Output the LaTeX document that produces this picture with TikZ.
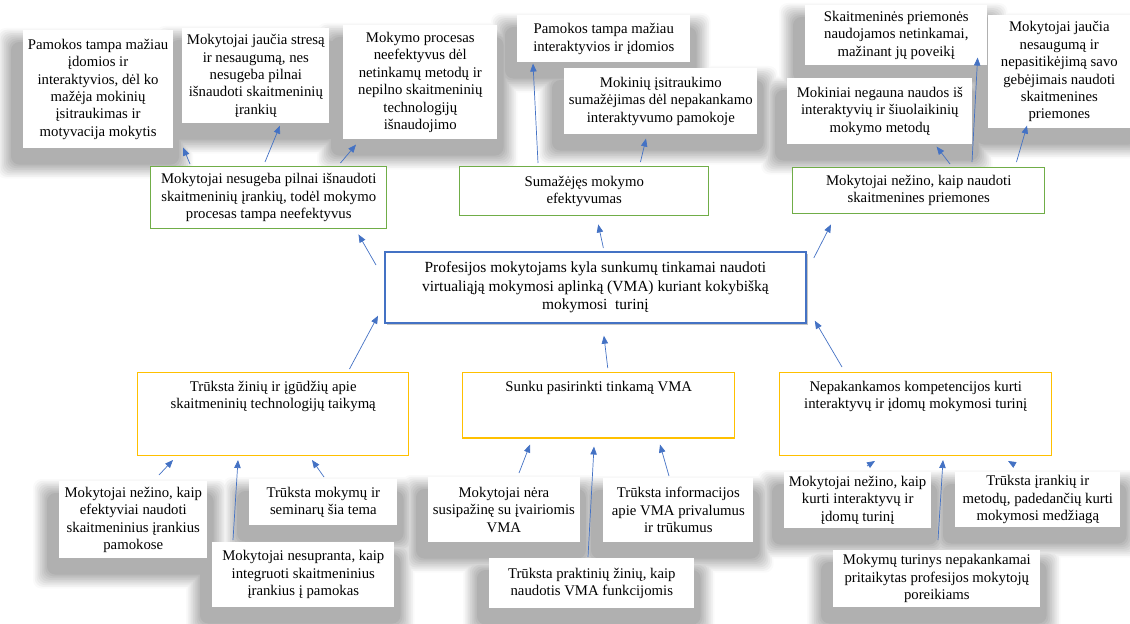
\documentclass[tikz,border=0pt]{standalone}
\usepackage{fontspec}
\setmainfont{Liberation Serif}
\usetikzlibrary{positioning,arrows.meta,calc,shadows,backgrounds}

\definecolor{zalia}{HTML}{70AD47}
\definecolor{geltona}{HTML}{FFC000}
\definecolor{melyna}{HTML}{4472C4}

\begin{document}
\begin{tikzpicture}[x=0.025cm, y=-0.025cm, font=\fontsize{10.5}{12.4}\selectfont,
    lapas/.style={fill=white, align=center, anchor=north west, inner ysep=2pt},
    pasekme/.style={draw=zalia, line width=1pt, fill=white, align=center, anchor=north west},
    priezastis/.style={draw=geltona, line width=1pt, fill=white, align=center, anchor=north west, inner ysep=6pt, text depth=0.95cm},
    problema/.style={draw=melyna, line width=1.2pt, fill=white, align=center, anchor=north west,
      drop shadow={shadow xshift=1.5pt, shadow yshift=-1.5pt, fill=black!45}},
    seselis/.style={rounded corners=6pt},
    rod/.style={draw=melyna, line width=0.5pt, -{Triangle[length=2mm,width=1.6mm]}}]
\useasboundingbox (0,0) rectangle (1130,624);
            % Pasekmių pasekmės
            \node[lapas, minimum width=3.6cm, minimum height=2.95cm] (PS1a) at (23,30) {Pamokos tampa mažiau\\ įdomios ir\\ interaktyvios, dėl ko\\ mažėja mokinių\\ įsitraukimas ir\\ motyvacija mokytis};
            \node[lapas, minimum width=3.575cm, minimum height=2.375cm] (PS1b) at (182,28) {Mokytojai jaučia stresą\\ ir nesaugumą, nes\\ nesugeba pilnai\\ išnaudoti skaitmeninių\\ įrankių};
            \node[lapas, minimum width=3.85cm, minimum height=2.85cm] (PS1c) at (343,25) {Mokymo procesas\\ neefektyvus dėl\\ netinkamų metodų ir\\ nepilno skaitmeninių\\ technologijų\\ išnaudojimo};
            \node[lapas, minimum width=4.325cm, minimum height=1.175cm] (PS2a) at (517,15) {Pamokos tampa mažiau\\ interaktyvios ir įdomios};
            \node[lapas, minimum width=4.825cm, minimum height=1.65cm] (PS2b) at (564,68) {Mokinių įsitraukimo\\ sumažėjimas dėl nepakankamo\\ interaktyvumo pamokoje};
            \node[lapas, minimum width=4.55cm, minimum height=1.5cm] (PS3a) at (805,5) {Skaitmeninės priemonės\\ naudojamos netinkamai,\\ mažinant jų poveikį};
            \node[lapas, minimum width=4.625cm, minimum height=1.65cm] (PS3b) at (787,78) {Mokiniai negauna naudos iš\\ interaktyvių ir šiuolaikinių\\ mokymo metodų};
            \node[lapas, minimum width=3.55cm, minimum height=2.825cm] (PS3c) at (988,15) {Mokytojai jaučia\\ nesaugumą ir\\ nepasitikėjimą savo\\ gebėjimais naudoti\\ skaitmenines\\ priemones};
            % Pasekmės
            \node[pasekme, minimum width=5.9cm, minimum height=1.55cm] (PS1) at (150,166) {Mokytojai nesugeba pilnai išnaudoti\\ skaitmeninių įrankių, todėl mokymo\\ procesas tampa neefektyvus};
            \node[pasekme, minimum width=6.225cm, minimum height=1.225cm] (PS2) at (459,166) {Sumažėjęs mokymo\\ efektyvumas};
            \node[pasekme, minimum width=6.3cm, minimum height=1.15cm] (PS3) at (792,167) {Mokytojai nežino, kaip naudoti\\ skaitmenines priemones};
            % Pagrindinė problema
            \node[problema, minimum width=10.525cm, minimum height=1.775cm, font=\fontsize{11}{13.2}\selectfont] (C) at (384,251) {Profesijos mokytojams kyla sunkumų tinkamai naudoti\\ virtualiąją mokymosi aplinką (VMA) kuriant kokybišką\\ mokymosi\ \ turinį};
            % Priežastys
            \node[priezastis, minimum width=6.775cm] (PR1) at (137,372) {Trūksta žinių ir įgūdžių apie\\ skaitmeninių technologijų taikymą};
            \node[priezastis, minimum width=6.8cm] (PR2) at (462,372) {Sunku pasirinkti tinkamą VMA};
            \node[priezastis, minimum width=6.8cm] (PR3) at (779,372) {Nepakankamos kompetencijos kurti\\ interaktyvų ir įdomų mokymosi turinį};
            % Priežasčių priežastys
            \node[lapas, minimum width=3.7cm, minimum height=1.15cm] (PR1c) at (249,479) {Trūksta mokymų ir\\ seminarų šia tema};
            \node[lapas, minimum width=4.55cm, minimum height=1.625cm] (PR1b) at (212,542) {Mokytojai nesupranta, kaip\\ integruoti skaitmeninius\\ įrankius į pamokas};
            \node[lapas, minimum width=3.7cm, minimum height=1.925cm] (PR1a) at (59,481) {Mokytojai nežino, kaip\\ efektyviai naudoti\\ skaitmeninius įrankius\\ pamokose};
            \node[lapas, minimum width=3.675cm, minimum height=1.625cm] (PR2a) at (428,477) {Mokytojai nėra\\ susipažinę su įvairiomis\\ VMA};
            \node[lapas, minimum width=3.75cm, minimum height=1.6cm] (PR2c) at (603,478) {Trūksta informacijos\\ apie VMA privalumus\\ ir trūkumus};
            \node[lapas, minimum width=5.125cm, minimum height=1.25cm] (PR2b) at (489,558) {Trūksta praktinių žinių, kaip\\ naudotis VMA funkcijomis};
            \node[lapas, minimum width=3.6cm, minimum height=1.4cm] (PR3a) at (784,472) {Mokytojai nežino, kaip\\ kurti interaktyvų ir\\ įdomų turinį};
            \node[lapas, minimum width=4.125cm, minimum height=1.375cm] (PR3c) at (955,472) {Trūksta įrankių ir\\ metodų, padedančių kurti\\ mokymosi medžiagą};
            \node[lapas, minimum width=5.175cm, minimum height=1.425cm] (PR3b) at (833,550) {Mokymų turinys nepakankamai\\ pritaikytas profesijos mokytojų\\ poreikiams};
            % Šešėliai
            \begin{scope}[on background layer]
            \foreach \k [evaluate=\k as \g using 2+3.6*\k, evaluate=\k as \d using 1.75*\k] in {0,...,8}
              \foreach \n in {PS1a,PS1b,PS1c,PS2a,PS2b,PS3a,PS3b,PS3c,PR1a,PR1b,PR1c,PR2a,PR2b,PR2c,PR3a,PR3b,PR3c}
                \fill[seselis, black!\g] ($(\n.north west)+(-26+\d,-2+\d)$) rectangle ($(\n.south east)+(20-\d,30-\d)$);
            \end{scope}
            % Rodyklės į pasekmes
            \draw[rod] ($(C.north west)+(-8,14)$) -- ($(PS1.south east)+(-29,5)$);
            \draw[rod] ($(C.north)+(8,-3)$) -- ($(PS2.south)+(14,8)$);
            \draw[rod] ($(C.north east)+(7,7)$) -- ($(PS3.south west)+(39,10)$);
            \draw[rod] ($(PS1.north west)+(40,-2)$) -- ($(PS1a.south east)+(10,-1)$);
            \draw[rod] ($(PS1.north west)+(115,-4)$) -- ($(PS1b.south west)+(98,2)$);
            \draw[rod] ($(PS1.north east)+(-47,-3)$) -- ($(PS1c.south west)+(13,5)$);
            \draw[rod] ($(PS2.north west)+(79,-3)$) -- ($(PS2a.south west)+(16,1)$);
            \draw[rod] ($(PS2.north east)+(-69,-4)$) -- ($(PS2b.south west)+(82,4)$);
            \draw[rod] ($(PS3.north west)+(158,-3)$) -- ($(PS3b.south east)+(-36,2)$);
            \draw[rod] ($(PS3.north west)+(180,-5)$) -- ($(PS3a.south east)+(-10,-8)$);
            \draw[rod] ($(PS3.north east)+(-29,-5)$) -- ($(PS3c.south west)+(39,-3)$);
            % Rodyklės iš priežasčių
            \draw[rod] ($(PR1.north east)+(-60,-3)$) -- ($(C.south west)+(-6,-8)$);
            \draw[rod] ($(PR2.north)+(9,-4)$) -- ($(C.south)+(8.5,12)$);
            \draw[rod] ($(PR3.north west)+(63,-5)$) -- ($(C.south east)+(8,-3)$);
            \draw[rod] ($(PR1a.north west)+(100,-6)$) -- ($(PR1.south west)+(36,4)$);
            \draw[rod] ($(PR1b.north west)+(21,-2)$) -- ($(PR1.south west)+(101,4)$);
            \draw[rod] ($(PR1c.north west)+(75,-2)$) -- ($(PR1.south west)+(175,4)$);
            \draw[rod] ($(PR2a.north west)+(91,-4)$) -- ($(PR2.south west)+(68,6)$);
            \draw[rod] ($(PR2b.north west)+(99,-1)$) -- ($(PR2.south west)+(132,8)$);
            \draw[rod] ($(PR2c.north west)+(66,-2)$) -- ($(PR2.south west)+(198,6)$);
            \draw[rod] ($(PR3a.north west)+(83,-6)$) -- ($(PR3.south west)+(96,5)$);
            \draw[rod] ($(PR3b.north west)+(105,-10)$) -- ($(PR3.south west)+(164,4)$);
            \draw[rod] ($(PR3c.north west)+(60,-7)$) -- ($(PR3.south west)+(229,5)$);
\end{tikzpicture}
\end{document}
